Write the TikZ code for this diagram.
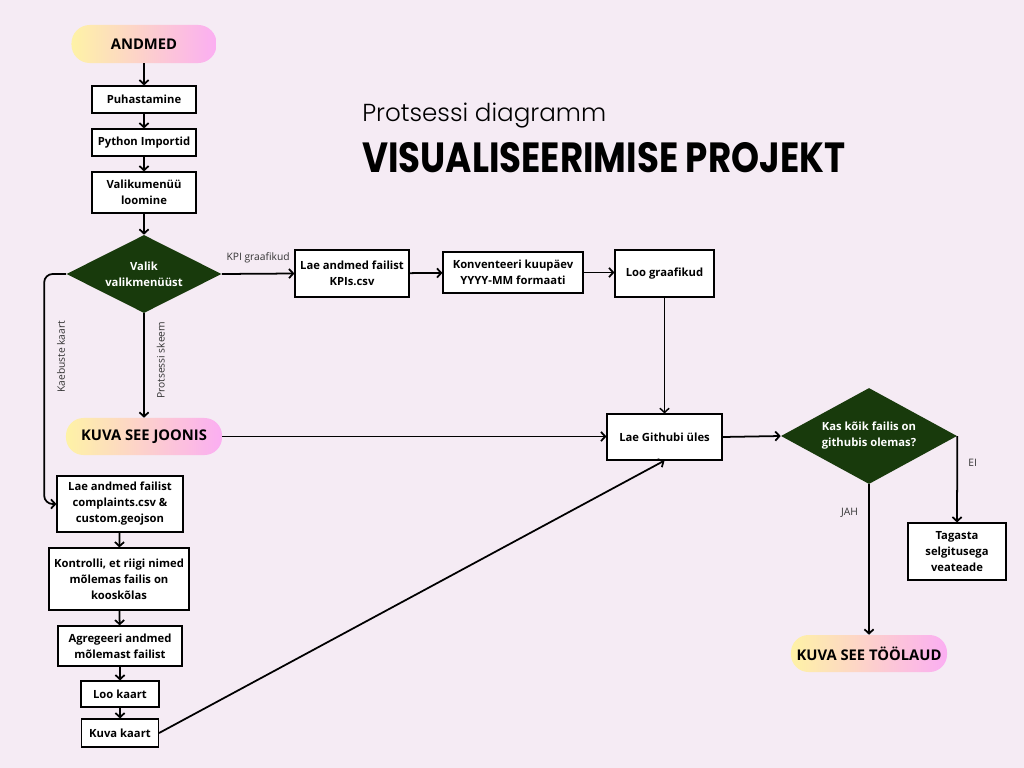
\documentclass[tikz,border=0pt]{standalone}
\usepackage{fontspec}
\setmainfont{Open Sans}
\newfontfamily\titlefont{Poppins}[FakeStretch=0.845]
\newfontfamily\subfont{Poppins Light}
\usepackage{tikz}
\usetikzlibrary{calc}
\usetikzlibrary{shapes.geometric}
\usetikzlibrary{arrows.meta}
\definecolor{bgpink}{HTML}{F5EBF4}
\definecolor{darkgreen}{HTML}{183A0C}
\definecolor{pillyellow}{HTML}{FEF2A6}
\definecolor{pillpink}{HTML}{FBAEF2}
\definecolor{labelgray}{HTML}{333333}

\begin{document}
\begin{tikzpicture}[x=0.025cm,y=-0.025cm,
    box/.style={draw,line width=0.8pt,fill=white,align=center,inner sep=1pt,
        font=\bfseries\fontsize{8}{11.4}\selectfont},
    pill/.style={rounded corners=12.5pt,left color=pillyellow,right color=pillpink,
        minimum width=3.9cm,minimum height=0.925cm,font=\bfseries\fontsize{10.5}{12}\selectfont},
    choice/.style={diamond,fill=darkgreen,text=white,align=center,inner sep=0pt,
        font=\bfseries\fontsize{8}{11.4}\selectfont},
    arr/.style={line width=1.25pt,-{Straight Barb[length=3pt,width=6.5pt]}},
    lbl/.style={text=labelgray,font=\fontsize{7.3}{8}\selectfont}]

            \fill[bgpink] (0,0) rectangle (1024,768);

            \coordinate (p1) at (144,44);
            \coordinate (p2) at (144,99.5);
            \coordinate (p3) at (144,142.5);
            \coordinate (p4) at (144,192.5);
            \coordinate (q) at (144,274);
            \coordinate (k1) at (352,273.5);
            \coordinate (k2) at (513,272.5);
            \coordinate (k3) at (664.5,273.5);
            \coordinate (j) at (144,436.5);
            \coordinate (g) at (664.5,437);
            \coordinate (c) at (869,436);
            \coordinate (e) at (957,551.5);
            \coordinate (t) at (869,653.5);
            \coordinate (m1) at (120,504);
            \coordinate (m2) at (119,579);
            \coordinate (m3) at (120,646);
            \coordinate (m4) at (120,694);
            \coordinate (m5) at (120,733);

            % pealkiri
            \node[anchor=base west,inner sep=0pt] (sub) at (362,122) {\subfont\fontsize{17.5}{20}\selectfont Protsessi diagramm};
            \node[anchor=base west,inner sep=0pt] (title) at (362,173) {\titlefont\bfseries\fontsize{30}{32}\selectfont VISUALISEERIMISE PROJEKT};

            \node[pill,minimum width=3.625cm,minimum height=0.95cm,rounded corners=13pt] (andmed) at (p1) {ANDMED};
            \node[box,minimum width=2.6cm,minimum height=0.675cm] (puhast) at (p2) {Puhastamine};
            \node[box,minimum width=2.6cm,minimum height=0.675cm] (python) at (p3) {Python Importid};
            \node[box,minimum width=2.6cm,minimum height=1.025cm] (menuu) at (p4) {Valikumenüü\\loomine};
            \node[choice,aspect=2,minimum width=3.875cm,minimum height=1.95cm] (valik) at (q) {Valik\\valikmenüüst};

            \node[box,minimum width=2.85cm,minimum height=1.175cm] (kpilae) at (k1) {Lae andmed failist\\KPIs.csv};
            \node[box,minimum width=3.5cm,minimum height=1.025cm] (kuupaev) at (k2) {Konventeeri kuupäev\\YYYY-MM formaati};
            \node[box,minimum width=2.475cm,minimum height=1.175cm] (graafik) at (k3) {Loo graafikud};

            \node[pill] (joonis) at (j) {KUVA SEE JOONIS};
            \node[box,minimum width=2.875cm,minimum height=1.15cm] (github) at (g) {Lae Githubi üles};
            \node[choice,aspect=1.83,minimum width=4.4cm,minimum height=2.4cm] (kontroll) at (c) {Kas kõik failis on\\githubis olemas?};
            \node[box,minimum width=2.45cm,minimum height=1.425cm] (viga) at (e) {Tagasta\\selgitusega\\veateade};
            \node[pill] (toolaud) at (t) {KUVA SEE TÖÖLAUD};

            \node[box,minimum width=3.15cm,minimum height=1.4cm] (kaebused) at (m1) {Lae andmed failist\\complaints.csv \&\\custom.geojson};
            \node[box,minimum width=3.5cm,minimum height=1.55cm] (nimed) at (m2) {Kontrolli, et riigi nimed\\mõlemas failis on\\kooskõlas};
            \node[box,minimum width=3.1cm,minimum height=1cm] (agreg) at (m3) {Agregeeri andmed\\mõlemast failist};
            \node[box,minimum width=1.95cm,minimum height=0.65cm] (kaart) at (m4) {Loo kaart};
            \node[box,minimum width=1.925cm,minimum height=0.7cm] (kuvakaart) at (m5) {Kuva kaart};

            \draw[arr] (andmed) -- (puhast);
            \draw[arr] (puhast) -- (python);
            \draw[arr] (python) -- (menuu);
            \draw[arr] (menuu) -- (valik);

            \draw[arr] (valik.east) -- node[lbl,above,yshift=4pt]{KPI graafikud} (kpilae.west);
            \draw[arr] (kpilae) -- (kuupaev);
            \draw[arr] (kuupaev.east) -- (graafik.west |- kuupaev.east);
            \draw[arr,line width=1pt] (graafik) -- (github);

            \draw[arr] (valik.south) -- node[lbl,rotate=90,anchor=north,pos=0.45,inner sep=8.5pt]{Protsessi skeem} (joonis.north);
            \draw[arr,rounded corners=6pt] (valik.west) -- ++(-22,0) |- node[lbl,pos=0.18,rotate=90,anchor=north,inner sep=8.5pt]{Kaebuste kaart} (kaebused.west);

            \draw[arr] (kaebused) -- (nimed);
            \draw[arr] (nimed) -- (agreg);
            \draw[arr] (agreg) -- (kaart);
            \draw[arr] (kaart) -- (kuvakaart);
            \draw[arr] (kuvakaart.east) -- (github.south);

            \draw[arr] (joonis.east) -- (github.west |- joonis.east);
            \draw[arr] (github.east) -- (kontroll.west);
            \draw[arr] (kontroll.east) -- node[lbl,right,pos=0.31,xshift=4pt]{EI} (viga.north);
            \draw[arr] (kontroll.south) -- node[lbl,left,pos=0.19,xshift=-4pt]{JAH} (toolaud.north);

        \end{tikzpicture}
\end{document}
